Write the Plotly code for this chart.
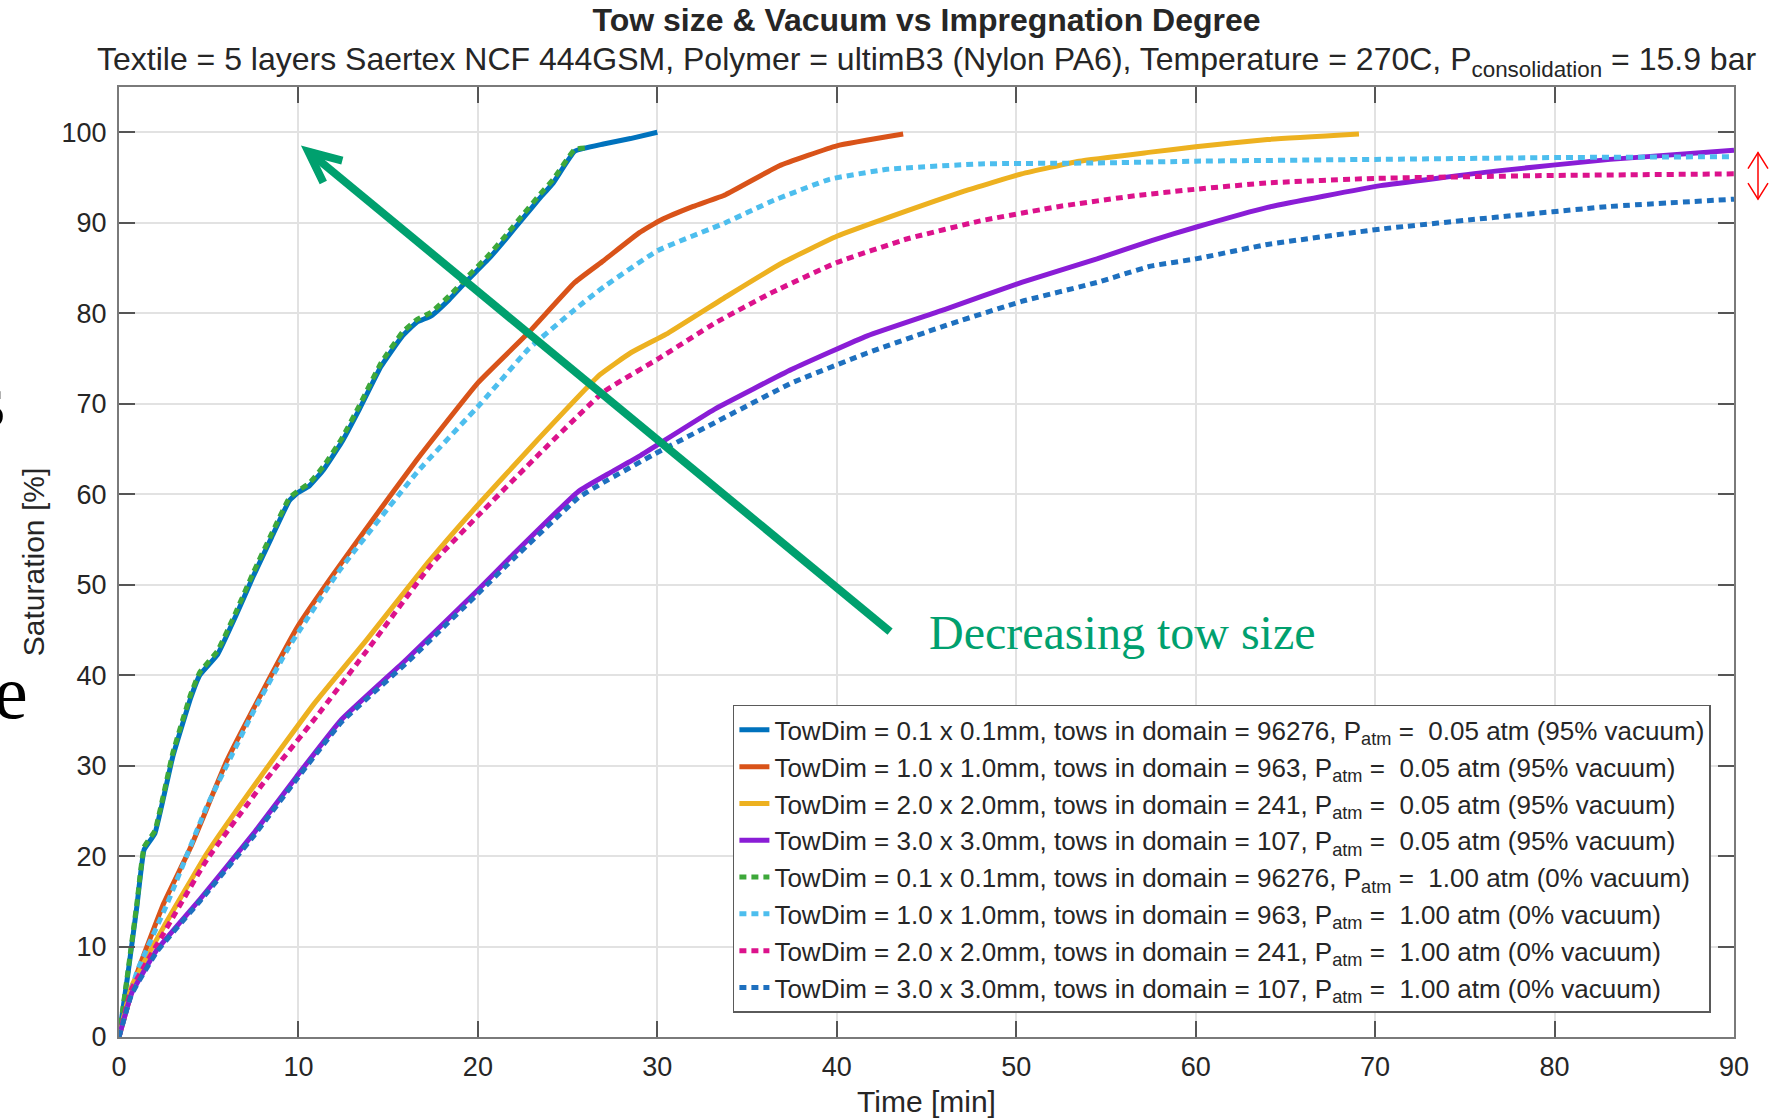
import plotly.graph_objects as go

# ---------------- data ----------------
t_01_vac = [0, 0.5, 1.0, 1.4, 2.0, 3.0, 4.0, 4.5, 5.5, 6.5, 7.5, 8.5, 9.5, 10, 10.6, 11.4, 12.4, 13.4, 14.6, 15.8,
            16.6, 17.4, 18.4, 19.4, 20.6, 21.6, 22.6, 23.4, 24.2, 25.4, 27, 28.5, 30]
s_01_vac = [0, 7, 14.5, 20.7, 22.5, 31, 37.5, 40, 42.3, 46.5, 51, 55.2, 59.3, 60.2, 60.9, 62.7, 65.7, 69.4, 74.1, 77.5,
            79, 79.7, 81.5, 83.6, 86, 88.3, 90.7, 92.6, 94.4, 97.9, 98.7, 99.3, 100]

t_10_vac = [0, 1, 2.5, 4, 6, 8, 10, 12, 14, 16.6, 20, 22.8, 25.4, 27, 29, 30.2, 32, 33.8, 36.8, 40, 43.7]
s_10_vac = [0, 7, 14.8, 21, 30.5, 38.2, 45.5, 51.3, 56.8, 63.8, 72.3, 77.8, 83.4, 85.8, 88.9, 90.3, 91.8, 93.1, 96.3, 98.5, 99.8]

t_20_vac = [0, 0.7, 2.5, 4.9, 7.9, 10.9, 13.8, 17.2, 20, 23, 26.8, 28.5, 30.6, 33.9, 37, 40, 43.9, 47.1, 50.3, 53.5,
            57.5, 60, 64, 69.1]
s_20_vac = [0, 5.6, 12.2, 20.3, 28.8, 36.9, 43.9, 52.4, 58.8, 65.3, 73.2, 75.6, 77.8, 81.9, 85.6, 88.5, 91.3, 93.5, 95.4, 96.8,
            97.8, 98.4, 99.2, 99.8]

t_30_vac = [0, 0.7, 2.1, 4.5, 7.5, 9.9, 12.4, 16, 20, 22, 25.6, 27.4, 29, 33.2, 37.5, 41.7, 46, 50.3, 54.5, 57.5, 60, 64,
            70.3, 76.7, 83.1, 90]
s_30_vac = [0, 4.8, 9.6, 15.2, 22.5, 28.8, 35.1, 41.7, 49.4, 53.4, 60.3, 62.4, 64.2, 69.4, 73.8, 77.5, 80.4, 83.4, 86.0,
            88.0, 89.5, 91.7, 94.1, 95.7, 97.0, 98.0]

t_01_atm = [0, 0.5, 1.0, 1.4, 2.0, 3.0, 4.0, 4.5, 5.5, 6.5, 7.5, 8.5, 9.5, 10, 10.6, 11.4, 12.4, 13.4, 14.6, 15.8,
            16.6, 17.4, 18.4, 19.4, 20.6, 21.6, 22.6, 23.4, 24.2, 25.4, 26.2]
s_01_atm = [0, 7.3, 14.8, 21, 22.8, 31.4, 37.9, 40.3, 42.7, 46.9, 51.4, 55.6, 59.6, 60.4, 61.2, 63.1, 66.1, 69.8, 74.5, 77.9,
            79.3, 80.1, 81.9, 84, 86.4, 88.7, 91.1, 93, 94.8, 98.1, 98.3]

t_10_atm = [0, 1, 2.7, 4.9, 7.5, 9.5, 12.3, 16.6, 20.2, 22.8, 25.4, 26.8, 30, 33.8, 36.4, 39.6, 42.8, 48, 54.5, 60, 70,
            80, 90]
s_10_atm = [0, 7.2, 14.8, 25.5, 36, 43.2, 51.6, 62.4, 70.1, 76, 80.4, 82.6, 86.9, 90, 92.4, 94.8, 95.9, 96.5, 96.6, 96.8,
            97, 97.2, 97.3]

t_20_atm = [0, 0.7, 2.5, 4.9, 7.9, 11, 14, 17.4, 20, 23.4, 27, 30, 33.2, 36.4, 40, 43.9, 48, 52.4, 56.7, 60, 64, 70,
            79, 90]
s_20_atm = [0, 5.3, 11.5, 19.6, 27.7, 35.4, 43.2, 52.2, 57.6, 64.4, 71.3, 74.9, 78.9, 82.3, 85.6, 88.2, 90.2, 91.8, 93.0,
            93.7, 94.4, 94.9, 95.2, 95.4]

t_30_atm = [0, 0.7, 2.1, 4.5, 7.5, 9.9, 12.4, 16, 20, 22, 25.6, 27, 30, 33.2, 37.5, 41.7, 46, 50.3, 54.5, 57.5, 60, 64,
            70.3, 76.7, 83.1, 90]
s_30_atm = [0, 4.7, 9.4, 15, 22.2, 28.5, 34.8, 41.3, 49, 52.9, 59.6, 61.3, 64.6, 67.9, 72.3, 75.6, 78.6, 81.3, 83.4, 85.2,
            86, 87.6, 89.3, 90.6, 91.8, 92.6]

series_names = [
    "TowDim = 0.1 x 0.1mm, tows in domain = 96276, P<sub>atm</sub> =\u00a0 0.05 atm (95% vacuum)",
    "TowDim = 1.0 x 1.0mm, tows in domain = 963, P<sub>atm</sub> =\u00a0 0.05 atm (95% vacuum)",
    "TowDim = 2.0 x 2.0mm, tows in domain = 241, P<sub>atm</sub> =\u00a0 0.05 atm (95% vacuum)",
    "TowDim = 3.0 x 3.0mm, tows in domain = 107, P<sub>atm</sub> =\u00a0 0.05 atm (95% vacuum)",
    "TowDim = 0.1 x 0.1mm, tows in domain = 96276, P<sub>atm</sub> =\u00a0 1.00 atm (0% vacuum)",
    "TowDim = 1.0 x 1.0mm, tows in domain = 963, P<sub>atm</sub> =\u00a0 1.00 atm (0% vacuum)",
    "TowDim = 2.0 x 2.0mm, tows in domain = 241, P<sub>atm</sub> =\u00a0 1.00 atm (0% vacuum)",
    "TowDim = 3.0 x 3.0mm, tows in domain = 107, P<sub>atm</sub> =\u00a0 1.00 atm (0% vacuum)",
]
series_t = [t_01_vac, t_10_vac, t_20_vac, t_30_vac, t_01_atm, t_10_atm, t_20_atm, t_30_atm]
series_s = [s_01_vac, s_10_vac, s_20_vac, s_30_vac, s_01_atm, s_10_atm, s_20_atm, s_30_atm]
series_colors = ["#0072BD", "#D95319", "#EDB120", "#8A1DD6", "#3DA83A", "#4DBEEE", "#DC128C", "#1E70BF"]
series_dash = ["solid"] * 4 + ["7px,5px"] * 4

x_ticks = list(range(0, 91, 10))
y_ticks = list(range(0, 101, 10))

# annotation anchors (data units)
arrow_tail = (42.97, 44.8)
arrow_head = (10.55, 97.87)
note_pos = (45.0, 44.7)
gap_top, gap_bottom = 97.75, 92.6

FONT = "Liberation Sans, Arial, Helvetica, sans-serif"
SERIF = "Liberation Serif, Times New Roman, serif"
GREEN = "#00A06E"

fig = go.Figure()
for name, tx, sy, col, dash in zip(series_names, series_t, series_s, series_colors, series_dash):
    fig.add_trace(go.Scatter(x=tx, y=sy, mode="lines", name=name,
                             line=dict(color=col, width=5, dash=dash, shape="spline", smoothing=0.35)))

axis_common = dict(showline=True, linecolor="#7a7a7a", linewidth=2, mirror="ticks",
                   ticks="inside", ticklen=16, tickwidth=2, tickcolor="#555555",
                   showgrid=True, gridcolor="#e2e2e2", gridwidth=1.5, zeroline=False,
                   tickfont=dict(family=FONT, size=27, color="#262626"))

fig.update_xaxes(range=[0, 90], tickvals=x_ticks, ticklabelstandoff=5,
                 title=dict(text="Time [min]", font=dict(family=FONT, size=30, color="#262626"), standoff=10),
                 **axis_common)
fig.update_yaxes(range=[0, 105], tickvals=y_ticks, ticklabelstandoff=5,
                 title=dict(text="Saturation [%]", font=dict(family=FONT, size=30, color="#262626"), standoff=8),
                 **axis_common)

fig.update_layout(
    width=1772, height=1120,
    margin=dict(l=119, r=38, t=87, b=83, autoexpand=False),
    paper_bgcolor="white", plot_bgcolor="white",
    title=dict(text="<b>Tow size & Vacuum vs Impregnation Degree</b>",
               font=dict(family=FONT, size=32, color="#262626"),
               x=0.5229, xanchor="center", y=1 - 20 / 1120, yanchor="middle"),
    legend=dict(x=0.9857, xanchor="right", y=0.0253, yanchor="bottom",
                bgcolor="white", bordercolor="#5a5a5a", borderwidth=1.5,
                font=dict(family=FONT, size=26, color="#262626"),
                tracegroupgap=0),
    showlegend=True,
)

# subtitle
fig.add_annotation(xref="paper", yref="paper", x=0.5, y=(1037 - 61.5) / 950, xanchor="center", yanchor="middle",
                   showarrow=False,
                   text="Textile = 5 layers Saertex NCF 444GSM, Polymer = ultimB3 (Nylon PA6), Temperature = 270C, "
                        "P<sub>consolidation</sub> = 15.9 bar",
                   font=dict(family=FONT, size=32, color="#262626"))

# green arrow
fig.add_shape(type="line", xref="x", yref="y", x0=arrow_tail[0], y0=arrow_tail[1], x1=arrow_head[0], y1=arrow_head[1],
              line=dict(color=GREEN, width=8))
fig.add_shape(type="path", xref="x", yref="y", xsizemode="pixel", ysizemode="pixel",
              xanchor=arrow_head[0], yanchor=arrow_head[1], path="M34,-9 L0,0 L15,-31",
              line=dict(color=GREEN, width=8))
fig.add_annotation(xref="x", yref="y", x=note_pos[0], y=note_pos[1], xanchor="left", yanchor="middle",
                   showarrow=False, text="Decreasing tow size",
                   font=dict(family=SERIF, size=48, color=GREEN))

# red double arrow at right edge
rx = (1758 - 119) / 1615
fig.add_shape(type="line", xref="paper", yref="y", x0=rx, x1=rx, y0=gap_bottom, y1=gap_top,
              line=dict(color="red", width=1.5))
fig.add_shape(type="path", xref="paper", yref="y", xsizemode="pixel", ysizemode="pixel",
              xanchor=rx, yanchor=gap_top, path="M-10,-16 L0,0 L10,-16", line=dict(color="red", width=1.5))
fig.add_shape(type="path", xref="paper", yref="y", xsizemode="pixel", ysizemode="pixel",
              xanchor=rx, yanchor=gap_bottom, path="M-10,16 L0,0 L10,16", line=dict(color="red", width=1.5))

# stray slide text fragments at left edge
fig.add_annotation(xref="paper", yref="paper", x=(30 - 119) / 1615, y=(1037 - 692) / 950, xanchor="right",
                   yanchor="middle", showarrow=False, text="e", font=dict(family=SERIF, size=76, color="black"))
fig.add_annotation(xref="paper", yref="paper", x=(8 - 119) / 1615, y=(1037 - 400) / 950, xanchor="right",
                   yanchor="middle", showarrow=False, text="s", font=dict(family=SERIF, size=76, color="black"))

fig.write_html("out.html")
